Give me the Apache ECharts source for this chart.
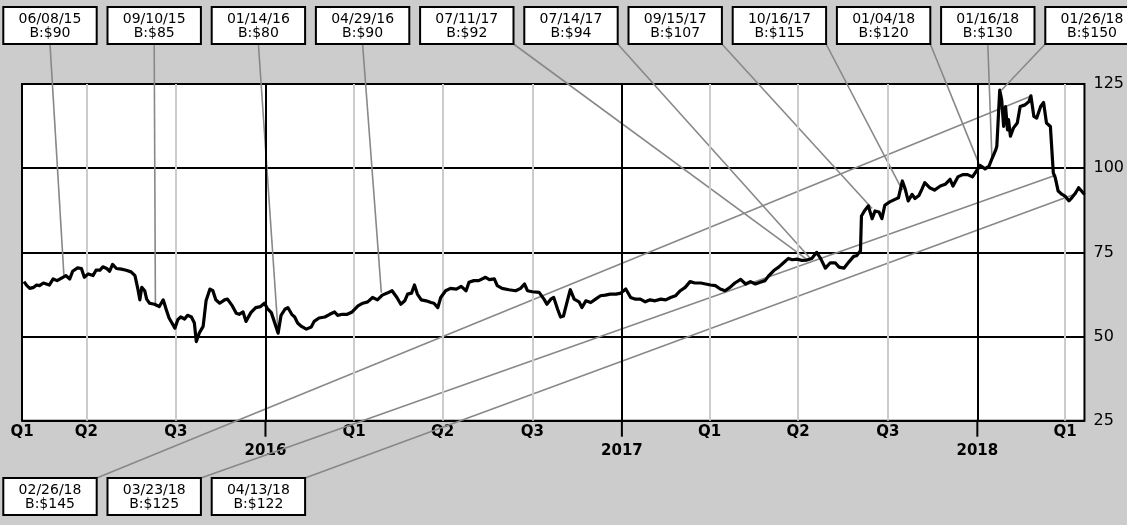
<!DOCTYPE html>
<html><head><meta charset="utf-8">
<script src="https://cdn.jsdelivr.net/npm/echarts@6/dist/echarts.min.js"></script>
<style>html,body{margin:0;padding:0;background:#cccccc;}#c{width:1127px;height:525px;}</style>
</head><body><div id="c"></div>
<script>
const dates = [
'2015-04-28','2015-05-01','2015-05-04','2015-05-08','2015-05-11','2015-05-14','2015-05-18','2015-05-24','2015-05-28','2015-06-01',
'2015-06-07','2015-06-10','2015-06-14','2015-06-17','2015-06-22','2015-06-26','2015-06-29','2015-07-03','2015-07-08','2015-07-11',
'2015-07-15','2015-07-18','2015-07-22','2015-07-25','2015-07-28','2015-08-01','2015-08-06','2015-08-11','2015-08-16','2015-08-20',
'2015-08-23','2015-08-25','2015-08-27','2015-08-30','2015-09-01','2015-09-04','2015-09-09','2015-09-14','2015-09-18','2015-09-21',
'2015-09-24','2015-09-30','2015-10-03','2015-10-06','2015-10-10','2015-10-13','2015-10-17','2015-10-20','2015-10-22','2015-10-25',
'2015-10-29','2015-11-01','2015-11-05','2015-11-08','2015-11-11','2015-11-15','2015-11-20','2015-11-23','2015-11-28','2015-12-02',
'2015-12-05','2015-12-09','2015-12-12','2015-12-17','2015-12-22','2015-12-27','2015-12-31',
'2016-01-03','2016-01-07','2016-01-10','2016-01-14','2016-01-17','2016-01-21','2016-01-24','2016-01-28','2016-01-31','2016-02-03',
'2016-02-07','2016-02-12','2016-02-17','2016-02-20','2016-02-25','2016-03-02','2016-03-07','2016-03-12','2016-03-15','2016-03-20',
'2016-03-25','2016-03-30','2016-04-05','2016-04-10','2016-04-15','2016-04-20','2016-04-25','2016-04-30','2016-05-05','2016-05-10',
'2016-05-15','2016-05-19','2016-05-23','2016-05-26','2016-05-30','2016-06-02','2016-06-05','2016-06-09','2016-06-14','2016-06-19',
'2016-06-22','2016-06-26','2016-06-29','2016-07-04','2016-07-09','2016-07-15','2016-07-20','2016-07-25','2016-07-28','2016-08-02',
'2016-08-07','2016-08-14','2016-08-18','2016-08-23','2016-08-26','2016-08-31','2016-09-07','2016-09-14','2016-09-19','2016-09-23',
'2016-09-26','2016-10-01','2016-10-08','2016-10-13','2016-10-16','2016-10-20','2016-10-23','2016-10-27','2016-10-30','2016-11-02',
'2016-11-06','2016-11-09','2016-11-13','2016-11-18','2016-11-21','2016-11-25','2016-11-30','2016-12-05','2016-12-10','2016-12-15',
'2016-12-20','2016-12-26','2016-12-31',
'2017-01-05','2017-01-10','2017-01-15','2017-01-20','2017-01-25','2017-01-30','2017-02-04','2017-02-10','2017-02-15','2017-02-20',
'2017-02-25','2017-03-02','2017-03-07','2017-03-12','2017-03-17','2017-03-23','2017-03-28','2017-04-02','2017-04-07','2017-04-12',
'2017-04-17','2017-04-22','2017-04-27','2017-05-03','2017-05-08','2017-05-13','2017-05-18','2017-05-23','2017-05-28','2017-06-01',
'2017-06-06','2017-06-11','2017-06-16','2017-06-21','2017-06-25','2017-06-30','2017-07-05','2017-07-10','2017-07-15','2017-07-20',
'2017-07-24','2017-07-29','2017-08-03','2017-08-08','2017-08-12','2017-08-17','2017-08-22','2017-08-27','2017-08-30','2017-09-03',
'2017-09-04','2017-09-07','2017-09-11','2017-09-15','2017-09-18','2017-09-22','2017-09-25','2017-09-28','2017-10-03','2017-10-09',
'2017-10-12','2017-10-16','2017-10-19','2017-10-22','2017-10-26','2017-10-29','2017-11-02','2017-11-05','2017-11-08','2017-11-13',
'2017-11-18','2017-11-24','2017-11-29','2017-12-04','2017-12-07','2017-12-12','2017-12-17','2017-12-22','2017-12-27',
'2018-01-01','2018-01-04','2018-01-09','2018-01-13','2018-01-16','2018-01-20','2018-01-21','2018-01-24','2018-01-26','2018-01-28',
'2018-01-30','2018-02-01','2018-02-02','2018-02-04','2018-02-07','2018-02-11','2018-02-14','2018-02-19','2018-02-23','2018-02-25',
'2018-02-28','2018-03-03','2018-03-07','2018-03-10','2018-03-13','2018-03-17','2018-03-20','2018-03-22','2018-03-25','2018-03-29',
'2018-04-01','2018-04-05','2018-04-08','2018-04-12','2018-04-15','2018-04-18','2018-04-21'
];
const prices = [
66.3,65.1,64.3,64.6,65.3,65.1,65.9,65.3,67.1,66.6,
67.6,68.1,67.1,69.4,70.4,70.2,67.6,68.6,68.1,69.7,
69.7,70.7,70.2,69.4,71.4,70.2,70.0,69.7,69.2,68.1,
64.1,60.9,64.6,63.6,61.1,59.9,59.6,58.9,60.9,58.1,
55.5,52.5,55.0,55.8,55.2,56.3,55.8,54.0,48.5,51.0,
53.0,60.6,64.1,63.6,60.9,59.9,60.9,61.1,59.1,56.9,
56.6,57.3,54.5,57.1,58.6,58.9,59.9,
58.3,57.1,54.5,51.0,56.3,58.1,58.6,56.6,55.8,54.0,
53.0,52.2,52.8,54.5,55.5,55.8,56.6,57.3,56.3,56.6,
56.6,57.3,59.1,59.9,60.3,61.6,60.9,62.3,62.9,63.6,
61.6,59.6,60.6,62.6,62.9,65.3,62.6,60.9,60.6,60.1,
59.9,58.6,61.6,63.6,64.3,64.1,64.9,63.6,66.1,66.6,
66.6,67.6,66.9,67.1,65.1,64.3,63.9,63.6,64.3,65.6,
63.6,63.3,63.1,61.1,59.6,61.1,61.6,58.1,55.8,56.1,
60.6,63.9,61.1,60.3,58.6,60.6,60.1,61.1,62.1,62.3,
62.6,62.6,62.9,
64.1,61.6,61.1,61.1,60.3,60.9,60.6,61.1,60.9,61.6,
62.1,63.6,64.6,66.3,65.9,65.9,65.6,65.3,65.1,64.1,
63.6,64.6,65.9,67.0,65.6,66.3,65.6,66.1,66.6,68.1,
69.6,70.6,71.9,73.2,72.8,73.0,72.6,72.7,73.2,75.0,
73.2,70.3,71.9,71.9,70.6,70.3,72.1,73.8,74.0,75.5,
85.8,87.3,88.8,85.0,87.3,87.0,85.0,89.0,90.0,90.8,
91.2,96.2,93.7,90.3,92.2,91.0,91.9,93.7,95.7,94.2,
93.5,94.7,95.2,96.7,94.7,97.4,98.1,98.1,97.4,
99.6,100.8,99.8,100.6,102.8,105.5,106.5,123.2,120.3,112.4,
118.3,111.4,114.4,109.5,111.9,113.4,118.3,118.8,119.8,121.5,
115.4,114.9,118.3,119.5,113.4,112.4,98.6,97.2,93.2,92.2,
91.7,90.3,91.2,92.7,94.2,93.2,92.2
];
const axisStart = '2015-04-26';
const axisEnd = '2018-04-21';
const tickDates = ['2015-04-26','2015-07-01','2015-10-01','2016-01-01','2016-04-01','2016-07-01','2016-10-01','2017-01-01','2017-04-01','2017-07-01','2017-10-01','2018-01-01','2018-04-01'];
const tickLabels = ['Q1','Q2','Q3','2016','Q1','Q2','Q3','2017','Q1','Q2','Q3','2018','Q1'];
const quarterLineDates = ['2015-07-01','2015-10-01','2016-04-01','2016-07-01','2016-10-01','2017-04-01','2017-07-01','2017-10-01','2018-04-01'];
const yearLineDates = ['2016-01-01','2017-01-01','2018-01-01'];
const yMin = 25, yMax = 125, yStep = 25;

const topCalloutDates = ['2015-06-08','2015-09-10','2016-01-14','2016-04-29','2017-07-11','2017-07-14','2017-09-15','2017-10-16','2018-01-04','2018-01-16','2018-01-26'];
const topCalloutLabels = ['06/08/15','09/10/15','01/14/16','04/29/16','07/11/17','07/14/17','09/15/17','10/16/17','01/04/18','01/16/18','01/26/18'];
const topCalloutBids = ['B:$90','B:$85','B:$80','B:$90','B:$92','B:$94','B:$107','B:$115','B:$120','B:$130','B:$150'];
const topCalloutValues = [68.3,59.5,51.2,63.0,72.7,73.0,88.0,93.5,100.3,102.7,123.2];
const bottomCalloutDates = ['2018-02-26','2018-03-23','2018-04-13'];
const bottomCalloutLabels = ['02/26/18','03/23/18','04/13/18'];
const bottomCalloutBids = ['B:$145','B:$125','B:$122'];
const bottomCalloutValues = [121.5,98.0,92.5];

const FONT = '"DejaVu Sans", Verdana, sans-serif';
function ts(d) { const p = d.split('-').map(Number); return Date.UTC(p[0], p[1] - 1, p[2]); }
const tickTs = tickDates.map(ts);

const chart = echarts.init(document.getElementById('c'), null, {renderer: 'canvas'});
chart.setOption({
  animation: false,
  backgroundColor: '#cccccc',
  grid: {left: 22, right: 41, top: 84, bottom: 104.3, show: true, backgroundColor: '#ffffff', borderColor: '#000', borderWidth: 2},
  xAxis: {
    type: 'value', min: ts(axisStart), max: ts(axisEnd),
    axisLine: {show: false},
    splitLine: {show: false},
    axisTick: {show: false},
    axisLabel: {
      show: true, customValues: tickTs, margin: 2, color: '#000', fontFamily: FONT, fontSize: 15, fontWeight: 'bold', lineHeight: 19,
      showMinLabel: true, showMaxLabel: true, hideOverlap: false,
      formatter: function (v) {
        const i = tickTs.indexOf(v);
        if (i < 0) return '';
        const s = tickLabels[i];
        return s.charAt(0) === 'Q' ? s : '\n' + s;
      }
    }
  },
  yAxis: {
    type: 'value', position: 'right', min: yMin, max: yMax, interval: yStep,
    axisLine: {show: false}, axisTick: {show: false},
    axisLabel: {color: '#000', fontFamily: FONT, fontSize: 16, margin: 9},
    splitLine: {show: true, lineStyle: {color: '#000', width: 2}}
  },
  series: [
    {
      type: 'line', data: [], z: 1, silent: true,
      markLine: {
        silent: true, symbol: ['none', 'none'], label: {show: false}, animation: false,
        data: quarterLineDates.map(d => ({xAxis: ts(d), lineStyle: {color: '#cccccc', width: 2, type: 'solid'}}))
          .concat(yearLineDates.map(d => ({xAxis: ts(d), lineStyle: {color: '#000000', width: 2, type: 'solid'}})))
      }
    },
    {
      type: 'line', z: 5, showSymbol: false, symbol: 'none', silent: true,
      lineStyle: {color: '#000', width: 3.2, join: 'round'},
      data: dates.map((d, i) => [ts(d), prices[i]])
    }
  ]
});

const BOX_X0 = 3.3, BOX_STEP = 104.2, BOX_W = 93.4, BOX_H = 37;
const TOP_Y = 7, BOTTOM_Y = 478, TICK_LEN = 16;
const gfx = [];
yearLineDates.forEach(d => {
  const p = chart.convertToPixel({xAxisIndex: 0, yAxisIndex: 0}, [ts(d), yMin]);
  gfx.push({type: 'line', z: 4, silent: true, shape: {x1: p[0], y1: p[1], x2: p[0], y2: p[1] + TICK_LEN}, style: {stroke: '#000', lineWidth: 2}});
});
function addCallout(i, dateStr, value, l1, l2, boxTop, isTop) {
  const p = chart.convertToPixel({xAxisIndex: 0, yAxisIndex: 0}, [ts(dateStr), value]);
  const left = BOX_X0 + i * BOX_STEP, right = left + BOX_W;
  const sy = isTop ? boxTop + BOX_H : boxTop;
  const sx = p[0] < left ? left : (p[0] > right ? right : left + BOX_W / 2);
  gfx.push({type: 'line', z: 3, silent: true, shape: {x1: sx, y1: sy, x2: p[0], y2: p[1]}, style: {stroke: '#888888', lineWidth: 1.6}});
  gfx.push({type: 'rect', z: 10, silent: true, shape: {x: left, y: boxTop, width: BOX_W, height: BOX_H}, style: {fill: '#ffffff', stroke: '#000', lineWidth: 2}});
  gfx.push({type: 'text', z: 11, silent: true, x: left + BOX_W / 2, y: boxTop + BOX_H / 2 + 0.5,
    style: {text: l1 + '\n' + l2, align: 'center', verticalAlign: 'middle', font: '14px ' + FONT, lineHeight: 14, fill: '#000'}});
}
topCalloutDates.forEach((d, i) => addCallout(i, d, topCalloutValues[i], topCalloutLabels[i], topCalloutBids[i], TOP_Y, true));
bottomCalloutDates.forEach((d, i) => addCallout(i, d, bottomCalloutValues[i], bottomCalloutLabels[i], bottomCalloutBids[i], BOTTOM_Y, false));
chart.setOption({graphic: {elements: gfx}});
</script>
</body></html>
